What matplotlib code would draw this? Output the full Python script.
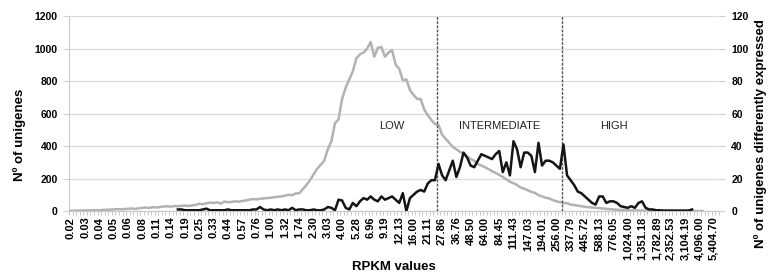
import numpy as np
import matplotlib
matplotlib.use('Agg')
import matplotlib.pyplot as plt

plt.rcParams['font.family'] = ['Liberation Sans', 'DejaVu Sans']

# tick labels (one every 4 bins)
rpkm_labels = ['0.02', '0.03', '0.04', '0.05', '0.06', '0.08', '0.11', '0.14', '0.19', '0.25',
               '0.33', '0.44', '0.57', '0.76', '1.00', '1.32', '1.74', '2.30', '3.03', '4.00',
               '5.28', '6.96', '9.19', '12.13', '16.00', '21.11', '27.86', '36.76', '48.50', '64.00',
               '84.45', '111.43', '147.03', '194.01', '256.00', '337.79', '445.72', '588.13', '776.05',
               '1,024.00', '1,351.18', '1,782.89', '2,352.53', '3,104.19', '4,096.00', '5,404.70']

# Nº of unigenes per RPKM bin (left axis), bins 0..177
unigenes = [2, 2, 3, 3, 4, 4, 5, 6, 5, 7,
            8, 9, 10, 12, 11, 12, 14, 16, 13, 17,
            20, 22, 19, 24, 22, 25, 28, 30, 27, 31,
            30, 32, 34, 31, 35, 38, 45, 42, 48, 52,
            50, 54, 46, 58, 55, 56, 60, 58, 62, 65,
            70, 74, 72, 75, 78, 80, 82, 85, 88, 90,
            95, 100, 98, 108, 110, 135, 160, 190, 225, 260,
            285, 310, 380, 430, 540, 565, 690, 760, 810, 860,
            940, 965, 975, 1000, 1040, 950, 1005, 1010, 950, 975,
            990, 900, 875, 805, 810, 745, 715, 690, 690, 625,
            590, 560, 535, 530, 470, 445, 420, 395, 380, 365,
            352, 335, 320, 310, 290, 280, 270, 258, 245, 235,
            222, 210, 195, 180, 172, 160, 145, 138, 128, 118,
            112, 98, 90, 82, 78, 68, 60, 55, 50, 48,
            40, 37, 33, 30, 26, 24, 22, 20, 18, 16,
            13, 12, 10, 8, 7, 6, 5, 4, 4, 3,
            3, 2, 2, 2, 1, 1, 1, 1, 1, 0,
            0, 0, 0, 0, 0, 0, 0, 0]

# Nº of unigenes differently expressed (right axis), bins 30..174
de_start = 30
de_unigenes = [1, 1, 0.5, 0.5, 0.5, 0.5, 0.5, 1, 1.5, 0.5,
               0.5, 0.5, 0.5, 0.5, 1, 0.5, 0.5, 0.5, 0.5, 0.5,
               0.5, 1, 1, 2.5, 1, 0.5, 1, 0.5, 1, 0.5,
               1, 0.5, 2, 0.5, 1, 1, 0.5, 0.5, 1, 0.5,
               0.5, 1, 2.5, 2, 0.5, 7, 6.5, 2, 1, 5,
               3, 6, 8, 7, 9, 7, 6, 9, 7, 8,
               9, 7, 5, 11, 0, 8, 10, 12, 13, 12,
               17, 19, 19, 29, 22, 19, 25, 31, 21, 27,
               36, 33, 28, 27, 31, 35, 34, 33, 32, 35,
               37, 24, 30, 22, 43, 38, 27, 36, 36, 34,
               24, 42, 28, 31, 31, 30, 28, 26, 41, 22,
               19, 16, 12, 11, 9, 7, 5, 4, 9, 9,
               5, 6, 6, 5, 3, 2.5, 2, 3, 2, 5,
               6, 2, 1, 1, 0.5, 0.5, 0.3, 0.3, 0.3, 0.3,
               0.3, 0.3, 0.3, 0.3, 1]

# class boundaries (bin position) and names
bounds = [102.7, 137.6]
classes = ['LOW', 'INTERMEDIATE', 'HIGH']
class_x = [90, 120, 152]

n_bins = 182

fig = plt.figure(figsize=(7.69, 2.77), dpi=100)
ax = fig.add_axes([0.0897, 0.238, 0.845, 0.704])
ax2 = ax.twinx()

ax.plot(np.arange(len(unigenes)), unigenes, color='#b2b2b2', lw=1.8, zorder=3)
ax2.plot(np.arange(len(de_unigenes)) + de_start, de_unigenes, color='#151515', lw=1.8, zorder=3)

for b in bounds:
    ax.plot([b, b], [0, 1200], color='#555555', lw=1, ls=(0, (2, 1)), zorder=4)
for name, cx in zip(classes, class_x):
    ax.text(cx, 523, name, ha='center', va='center', fontsize=8, color='#222222', zorder=5)

ax.set_xlim(-0.5, n_bins - 0.5)
ax.set_ylim(0, 1200)
ax2.set_ylim(0, 120)
ax.set_yticks(range(0, 1201, 200))
ax2.set_yticks(range(0, 121, 20))
ax.grid(axis='y', color='#dcdcdc', lw=1)
ax.set_axisbelow(True)

ax.set_xticks(np.arange(len(rpkm_labels)) * 4)
ax.set_xticklabels(rpkm_labels, rotation=90, fontsize=8, fontweight='bold')
ax.set_xticks(np.arange(n_bins + 1) - 0.5, minor=True)
ax.tick_params(axis='x', which='major', length=0, pad=4)
ax.tick_params(axis='x', which='minor', length=3, color='#bfbfbf', width=0.6)
ax.tick_params(axis='y', length=4, color='#d0d0d0', labelsize=7.5, pad=4)
ax2.tick_params(axis='y', length=4, color='#d0d0d0', labelsize=7.5, pad=5)
for lab in ax.get_yticklabels() + ax2.get_yticklabels():
    lab.set_fontweight('bold')

for a in (ax, ax2):
    for s in a.spines.values():
        s.set_visible(False)
ax.spines['left'].set_visible(True)
ax.spines['left'].set_color('#c8c8c8')
ax.spines['bottom'].set_visible(True)
ax.spines['bottom'].set_color('#c8c8c8')

fig.text(394 / 769, 1 - 267 / 277, 'RPKM values', ha='center', va='center',
         fontsize=9.5, fontweight='bold')
fig.text(20 / 769, 1 - 135 / 277, 'Nº of unigenes', ha='center', va='center',
         rotation=90, fontsize=9.5, fontweight='bold')
fig.text(761 / 769, 1 - 134 / 277, 'Nº of unigenes differently expressed', ha='center',
         va='center', rotation=90, fontsize=9.5, fontweight='bold')

fig.savefig('out.png', dpi=100)
